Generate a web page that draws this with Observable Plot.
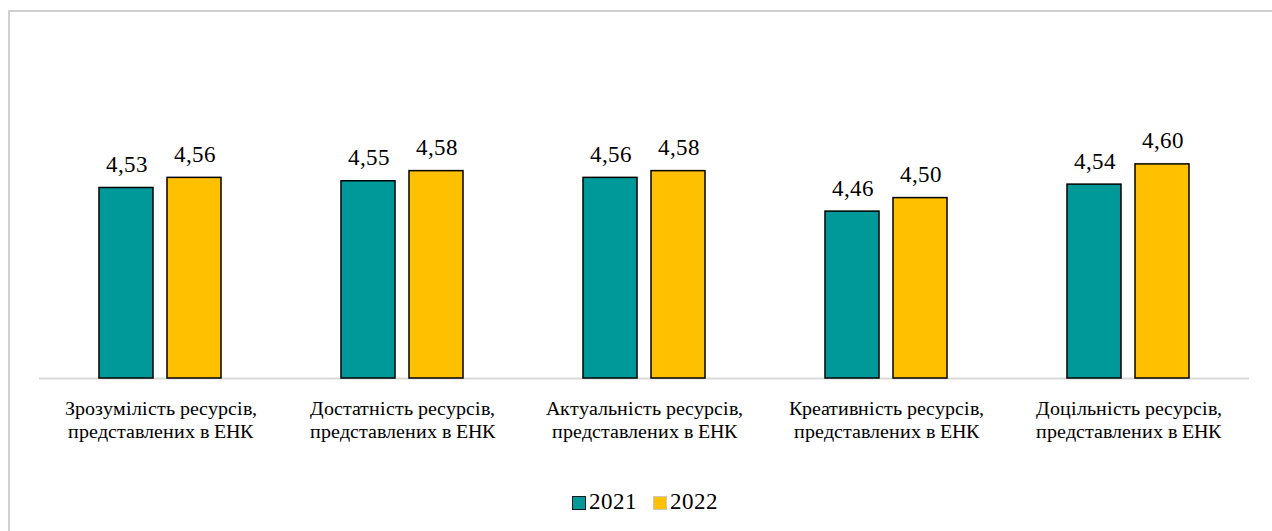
<!DOCTYPE html>
<html>
<head>
<meta charset="utf-8">
<script src="https://cdn.jsdelivr.net/npm/d3@7"></script>
<script src="https://cdn.jsdelivr.net/npm/@observablehq/plot@0.6"></script>
<style>
  @font-face { font-family: "ChartSerif"; src: local("Liberation Serif"), local("LiberationSerif"), local("Times New Roman"); }
  html, body { margin: 0; padding: 0; background: #fff; }
  .serif { font-family: ChartSerif, 'Liberation Serif', 'Times New Roman', serif; }
</style>
</head>
<body>
<div style="position:relative;width:1272px;height:531px;">
  <div style="position:absolute;left:8px;top:10px;width:1264px;height:521px;border-left:2px solid #d0d0d0;border-top:2px solid #d0d0d0;box-sizing:border-box;"></div>
  <div id="chart" style="position:absolute;left:0;top:0;"></div>
  <div class="serif" style="position:absolute;left:0;top:488px;width:1290px;text-align:center;font-size:23px;color:#000;line-height:28px;">
    <span style="display:inline-block;width:12px;height:12px;background:#009999;border:1.5px solid #1a1a1a;vertical-align:-1px;"></span><span class="serif" style="margin-left:3px;margin-right:16px;">2021</span><span style="display:inline-block;width:12px;height:12px;background:#FFC000;border:1.5px solid #c8c8c8;vertical-align:-1px;"></span><span class="serif" style="margin-left:3px;">2022</span>
  </div>
</div>
<script>
const categories = [
  "Зрозумілість ресурсів,\nпредставлених в ЕНК",
  "Достатність ресурсів,\nпредставлених в ЕНК",
  "Актуальність ресурсів,\nпредставлених в ЕНК",
  "Креативність ресурсів,\nпредставлених в ЕНК",
  "Доцільність ресурсів,\nпредставлених в ЕНК"
];
const years = ["2021", "2022"];
const values2021 = [4.53, 4.55, 4.56, 4.46, 4.54];
const values2022 = [4.56, 4.58, 4.58, 4.50, 4.60];
const colors = ["#009999", "#FFC000"];
const yMin = 3.965, yMax = 5.0;
const FONT = "ChartSerif, 'Liberation Serif', 'Times New Roman', serif";

const data = [];
categories.forEach((c, i) => {
  data.push({cat: c, year: years[0], value: values2021[i]});
  data.push({cat: c, year: years[1], value: values2022[i]});
});

const fmt = v => v.toFixed(2).replace(".", ",");

const chart = Plot.plot({
  width: 1272,
  height: 470,
  marginLeft: 37,
  marginRight: 22,
  marginTop: 29,
  marginBottom: 92,
  style: {background: "transparent", fontFamily: FONT},
  fx: {domain: categories, padding: 0, axis: null},
  x: {domain: years, paddingInner: 0.203, paddingOuter: 0.859, axis: null},
  y: {domain: [yMin, yMax], axis: null},
  color: {domain: years, range: colors},
  marks: [
    Plot.ruleY([yMin], {stroke: "#d9d9d9", strokeWidth: 2}),
    Plot.rectY(data, {fx: "cat", x: "year", y1: d => yMin, y2: "value", fill: "year", stroke: "#000", strokeWidth: 1.5}),
    Plot.text(data, {fx: "cat", x: "year", y: "value", text: d => fmt(d.value), dy: -16, lineAnchor: "bottom", fontSize: 23, fontFamily: FONT, fill: "#000"}),
    Plot.axisFx({anchor: "bottom", tickSize: 0, tickPadding: 20, fontSize: 20, fontFamily: FONT, lineHeight: 1.15, label: null, fill: "#000"})
  ]
});
document.getElementById("chart").appendChild(chart);
</script>
</body>
</html>
